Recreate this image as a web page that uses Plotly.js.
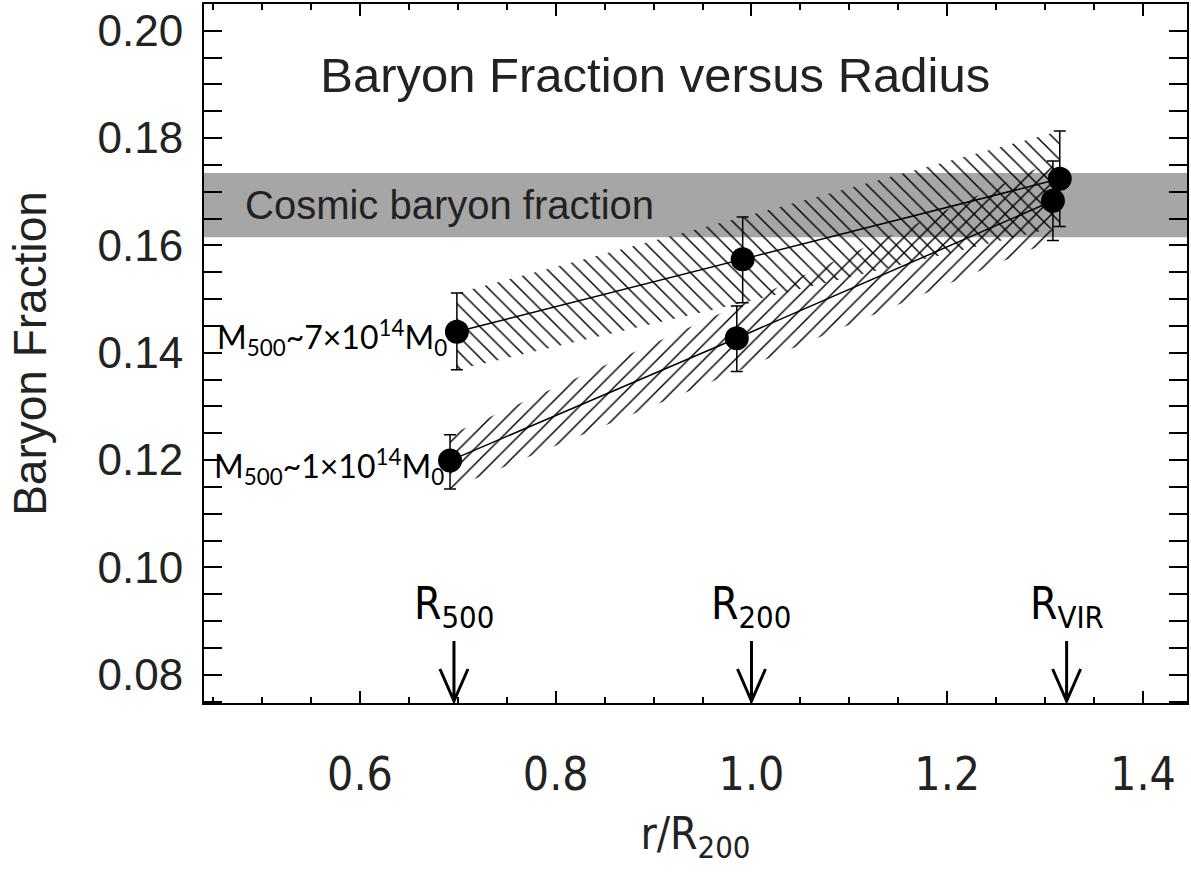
<!DOCTYPE html>
<html>
<head>
<meta charset="utf-8">
<script src="https://cdn.plot.ly/plotly-3.0.1.min.js"></script>
<style>html,body{margin:0;padding:0;background:#fff;}#chart{width:1191px;height:876px;}</style>
</head>
<body>
<div id="chart"></div>
<script>
// ---- data ----
const labelHigh = 'M<sub>500</sub>~7×10<sup>14</sup>M<sub>0</sub>';
const labelLow = 'M<sub>500</sub>~1×10<sup>14</sup>M<sub>0</sub>';

const rHigh = [0.699, 0.991, 1.315];
const fHigh = [0.1439, 0.1574, 0.1724];
const errHighPlus = [0.0072, 0.0079, 0.0089];
const errHighMinus = [0.0071, 0.0081, 0.0089];

const rLow = [0.692, 0.985, 1.308];
const fLow = [0.1199, 0.1427, 0.1683];
const errLowPlus = [0.0048, 0.0060, 0.0074];
const errLowMinus = [0.0053, 0.0062, 0.0074];

const cosmicRange = [0.1615, 0.1735];
const cosmicLabel = 'Cosmic baryon fraction';

const radiusMarks = [0.696, 1.0, 1.322];
const radiusLabels = ['R<sub>500</sub>', 'R<sub>200</sub>', 'R<sub>VIR</sub>'];

const chartTitle = 'Baryon Fraction versus Radius';
const xTitle = 'r/R<sub>200</sub>';
const yTitle = 'Baryon Fraction';

// ---- build ----
const SANS = 'Liberation Sans, Arial, Helvetica, sans-serif';
const NARROW = 'Liberation Sans Narrow, DejaVu Sans Condensed, Roboto Condensed, Liberation Sans, sans-serif';
const ROUND = 'Lato, Noto Sans, sans-serif';

function band(x, y, ep, em) {
  const bx = x.concat(x.slice().reverse());
  const by = y.map((v, i) => v + ep[i]).concat(y.map((v, i) => v - em[i]).reverse());
  return {bx, by};
}
const bh = band(rHigh, fHigh, errHighPlus, errHighMinus);
const bl = band(rLow, fLow, errLowPlus, errLowMinus);

const traces = [
  {x: bh.bx, y: bh.by, type: 'scatter', mode: 'none', fill: 'toself',
   fillcolor: 'rgba(0,0,0,0)',
   fillpattern: {shape: '\\', fgcolor: '#000', bgcolor: 'rgba(0,0,0,0)', size: 11, solidity: 0.13},
   hoverinfo: 'skip', showlegend: false},
  {x: bl.bx, y: bl.by, type: 'scatter', mode: 'none', fill: 'toself',
   fillcolor: 'rgba(0,0,0,0)',
   fillpattern: {shape: '/', fgcolor: '#000', bgcolor: 'rgba(0,0,0,0)', size: 11, solidity: 0.13},
   hoverinfo: 'skip', showlegend: false},
  {x: rHigh, y: fHigh, type: 'scatter', mode: 'lines+markers', name: labelHigh,
   line: {color: '#000', width: 1.5}, marker: {color: '#000', size: 24},
   error_y: {type: 'data', symmetric: false, array: errHighPlus, arrayminus: errHighMinus, color: '#000', thickness: 1.5, width: 6},
   showlegend: false},
  {x: rLow, y: fLow, type: 'scatter', mode: 'lines+markers', name: labelLow,
   line: {color: '#000', width: 1.5}, marker: {color: '#000', size: 24},
   error_y: {type: 'data', symmetric: false, array: errLowPlus, arrayminus: errLowMinus, color: '#000', thickness: 1.5, width: 6},
   showlegend: false}
];

const annotations = [
  {xref: 'paper', yref: 'y', x: 0.04, y: (cosmicRange[0] + cosmicRange[1]) / 2, xanchor: 'left', yanchor: 'middle',
   text: cosmicLabel, showarrow: false, font: {family: SANS, size: 40, color: '#222'}},
  {xref: 'x', yref: 'y', x: rHigh[0], y: fHigh[0], xanchor: 'right', yanchor: 'middle', xshift: -8, yshift: -6,
   text: labelHigh, showarrow: false, font: {family: ROUND, size: 32, color: '#000'}},
  {xref: 'x', yref: 'y', x: rLow[0], y: fLow[0], xanchor: 'right', yanchor: 'middle', xshift: -4, yshift: -6,
   text: labelLow, showarrow: false, font: {family: ROUND, size: 32, color: '#000'}}
];
radiusMarks.forEach((r, i) => {
  annotations.push({xref: 'x', yref: 'paper', x: r, y: 0.095, xanchor: 'center', yanchor: 'bottom',
    text: radiusLabels[i], showarrow: false, font: {family: NARROW, size: 44, color: '#000'}});
});

const shapes = [
  {type: 'rect', xref: 'paper', yref: 'y', x0: 0, x1: 1, y0: cosmicRange[0], y1: cosmicRange[1],
   fillcolor: '#a6a6a6', line: {width: 0}, layer: 'below'}
];
radiusMarks.forEach(r => {
  shapes.push({type: 'path', xref: 'x', yref: 'paper', xsizemode: 'pixel', ysizemode: 'pixel',
    xanchor: r, yanchor: 0, path: 'M0,2 L0,62 M-14,34 L0,2 L14,34',
    line: {color: '#000', width: 3}, layer: 'above'});
});

const layout = {
  width: 1191, height: 876,
  margin: {l: 204, r: 4, t: 4, b: 173},
  paper_bgcolor: '#fff', plot_bgcolor: '#fff',
  showlegend: false,
  title: {text: chartTitle, xref: 'paper', yref: 'paper', x: 0.459, y: 0.898,
          xanchor: 'center', yanchor: 'middle', font: {family: SANS, size: 49, color: '#222'}},
  xaxis: {range: [0.4406, 1.445], dtick: 0.2, tick0: 0, tickformat: '.1f',
          showgrid: false, zeroline: false, showline: true, linecolor: '#000', linewidth: 2, mirror: 'allticks',
          ticks: 'inside', ticklen: 12, tickwidth: 2, tickcolor: '#000',
          minor: {dtick: 0.05, ticks: 'inside', ticklen: 6, tickwidth: 2, tickcolor: '#000', showgrid: false},
          tickfont: {family: NARROW, size: 46, color: '#222'}, ticklabelstandoff: 30,
          title: {text: xTitle, font: {family: NARROW, size: 44, color: '#222'}, standoff: 18}},
  yaxis: {range: [0.07473, 0.20497], dtick: 0.02, tick0: 0, tickformat: '.2f',
          showgrid: false, zeroline: false, showline: true, linecolor: '#000', linewidth: 2, mirror: 'allticks',
          ticks: 'inside', ticklen: 18, tickwidth: 2, tickcolor: '#000',
          minor: {dtick: 0.005, ticks: 'inside', ticklen: 18, tickwidth: 2, tickcolor: '#000', showgrid: false},
          tickfont: {family: SANS, size: 44, color: '#222'}, ticklabelstandoff: 10,
          title: {text: yTitle, font: {family: SANS, size: 46, color: '#222'}, standoff: 36}},
  annotations: annotations,
  shapes: shapes
};

Plotly.newPlot('chart', traces, layout, {displayModeBar: false, staticPlot: true});
</script>
</body>
</html>
